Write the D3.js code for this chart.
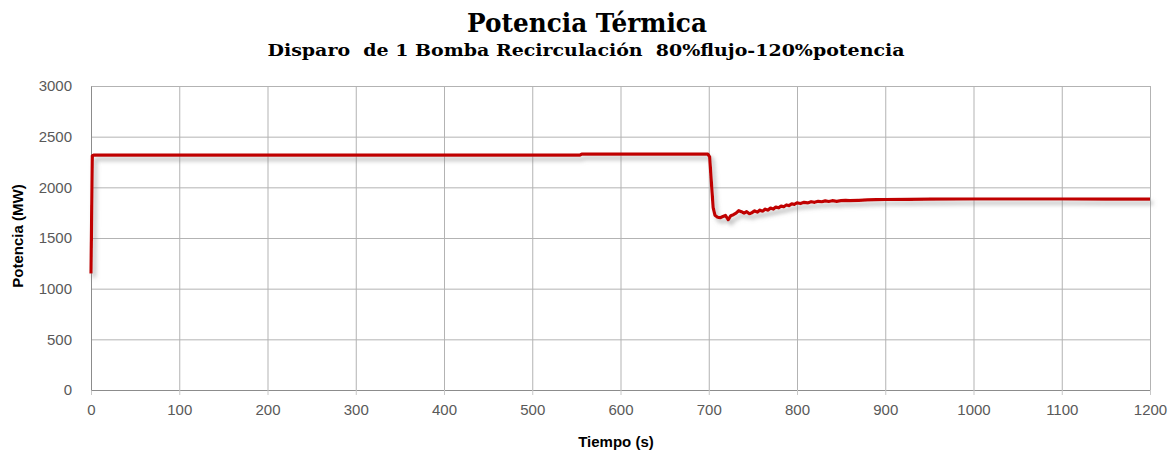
<!DOCTYPE html>
<html>
<head>
<meta charset="utf-8">
<script src="https://cdn.jsdelivr.net/npm/d3@7/dist/d3.min.js"></script>
<style>
  html, body { margin: 0; padding: 0; background: #ffffff; }
  svg { display: block; }
</style>
</head>
<body>
<svg id="chart" width="1175" height="455"></svg>
<script>
// Thermal power transient after one recirculation pump trip
const timeS = [0, 1.5, 3, 100, 200, 300, 400, 500, 554, 556, 600, 699,
  701, 703, 705, 707, 710, 713, 716, 719, 722, 725, 728, 731, 734, 737, 740,
  743, 746, 749, 752, 755, 758, 761, 764, 767, 770, 773, 776, 779, 782, 785,
  788, 791, 794, 797, 800, 804, 808, 812, 816, 820, 824, 828, 832, 836, 840,
  845, 850, 855, 860, 870, 880, 890, 900, 925, 950, 1000, 1050, 1100, 1150, 1200];
const powerMW = [1150, 2310, 2318, 2318, 2318, 2318, 2318, 2318, 2318, 2328, 2328, 2328,
  2300, 2050, 1800, 1725, 1705, 1700, 1712, 1722, 1680, 1720, 1730, 1745, 1770, 1760, 1745,
  1760, 1740, 1750, 1768, 1755, 1775, 1765, 1785, 1775, 1795, 1785, 1805, 1798, 1815, 1808,
  1826, 1820, 1836, 1832, 1846, 1840, 1852, 1846, 1858, 1852, 1862, 1858, 1866, 1860, 1868,
  1862, 1868, 1872, 1868, 1872, 1876, 1878, 1880, 1882, 1884, 1885, 1885, 1885, 1884, 1884];

const xTicks = [0, 100, 200, 300, 400, 500, 600, 700, 800, 900, 1000, 1100, 1200];
const yTicks = [0, 500, 1000, 1500, 2000, 2500, 3000];

const titleText = "Potencia Térmica";
const subtitleText = "Disparo  de 1 Bomba Recirculación  80%flujo-120%potencia";
const xTitle = "Tiempo (s)";
const yTitle = "Potencia (MW)";

const W = 1175, H = 455;
const margin = { top: 86, right: 25, bottom: 65, left: 91 };
const iw = W - margin.left - margin.right;
const ih = H - margin.top - margin.bottom;

const svg = d3.select("#chart");

const defs = svg.append("defs");
const shadow = defs.append("filter").attr("id", "lineShadow")
  .attr("x", "-5%").attr("y", "-20%").attr("width", "110%").attr("height", "140%");
shadow.append("feDropShadow")
  .attr("dx", 3).attr("dy", 4).attr("stdDeviation", 2)
  .attr("flood-color", "#7f7f7f").attr("flood-opacity", 0.55);

const x = d3.scaleLinear().domain([0, 1200]).range([0, iw]);
const y = d3.scaleLinear().domain([0, 3000]).range([ih, 0]);

const g = svg.append("g").attr("transform", `translate(${margin.left},${margin.top})`);

// Horizontal gridlines
g.append("g")
  .call(d3.axisLeft(y).tickValues(yTicks).tickSize(-iw).tickFormat(""))
  .call(s => s.select(".domain").remove())
  .call(s => s.selectAll("line").attr("stroke", "#b3b3b3").attr("stroke-width", 1));

// Vertical gridlines
g.append("g")
  .attr("transform", `translate(0,${ih})`)
  .call(d3.axisBottom(x).tickValues(xTicks).tickSize(-ih).tickFormat(""))
  .call(s => s.select(".domain").remove())
  .call(s => s.selectAll("line").attr("stroke", "#b3b3b3").attr("stroke-width", 1));

// X axis
const xAxis = g.append("g")
  .attr("transform", `translate(0,${ih})`)
  .call(d3.axisBottom(x).tickValues(xTicks).tickSize(5).tickPadding(9).tickFormat(d3.format("d")));
xAxis.select(".domain").attr("stroke", "#8c8c8c");
xAxis.selectAll("line").attr("stroke", "#c8c8c8");
xAxis.selectAll("text")
  .attr("fill", "#595959")
  .style("font-family", "'Liberation Sans', Arial, sans-serif")
  .style("font-size", "15px");

// Y axis
const yAxis = g.append("g")
  .call(d3.axisLeft(y).tickValues(yTicks).tickSize(0).tickPadding(19).tickFormat(d3.format("d")));
yAxis.select(".domain").attr("stroke", "#8c8c8c");
yAxis.selectAll("text")
  .attr("fill", "#595959")
  .style("font-family", "'Liberation Sans', Arial, sans-serif")
  .style("font-size", "15px");

// Power trace
const pts = timeS.map((t, i) => [t, powerMW[i]]);
const line = d3.line().x(d => x(d[0])).y(d => y(d[1])).curve(d3.curveLinear);
g.append("path")
  .datum(pts)
  .attr("d", line)
  .attr("fill", "none")
  .attr("stroke", "#c00000")
  .attr("stroke-width", 3.2)
  .attr("stroke-linejoin", "round")
  .attr("filter", "url(#lineShadow)");

// Titles
svg.append("text")
  .attr("x", 587).attr("y", 32)
  .attr("text-anchor", "middle")
  .attr("textLength", 240).attr("lengthAdjust", "spacingAndGlyphs")
  .style("font-family", "'DejaVu Serif', 'Liberation Serif', serif")
  .style("font-weight", "bold").style("font-size", "26px")
  .attr("fill", "#000")
  .text(titleText);

svg.append("text")
  .attr("x", 586).attr("y", 56)
  .attr("text-anchor", "middle")
  .attr("textLength", 637).attr("lengthAdjust", "spacingAndGlyphs")
  .style("font-family", "'DejaVu Serif', 'Liberation Serif', serif")
  .style("font-weight", "bold").style("font-size", "17.5px")
  .style("white-space", "pre")
  .attr("xml:space", "preserve")
  .attr("fill", "#000")
  .text(subtitleText);

// Axis titles
svg.append("text")
  .attr("x", 616).attr("y", 447)
  .attr("text-anchor", "middle")
  .style("font-family", "'Liberation Sans', Arial, sans-serif")
  .style("font-weight", "bold").style("font-size", "15px")
  .attr("fill", "#000")
  .text(xTitle);

svg.append("text")
  .attr("transform", "translate(23,236) rotate(-90)")
  .attr("text-anchor", "middle")
  .style("font-family", "'Liberation Sans', Arial, sans-serif")
  .style("font-weight", "bold").style("font-size", "15px")
  .attr("fill", "#000")
  .text(yTitle);
</script>
</body>
</html>
